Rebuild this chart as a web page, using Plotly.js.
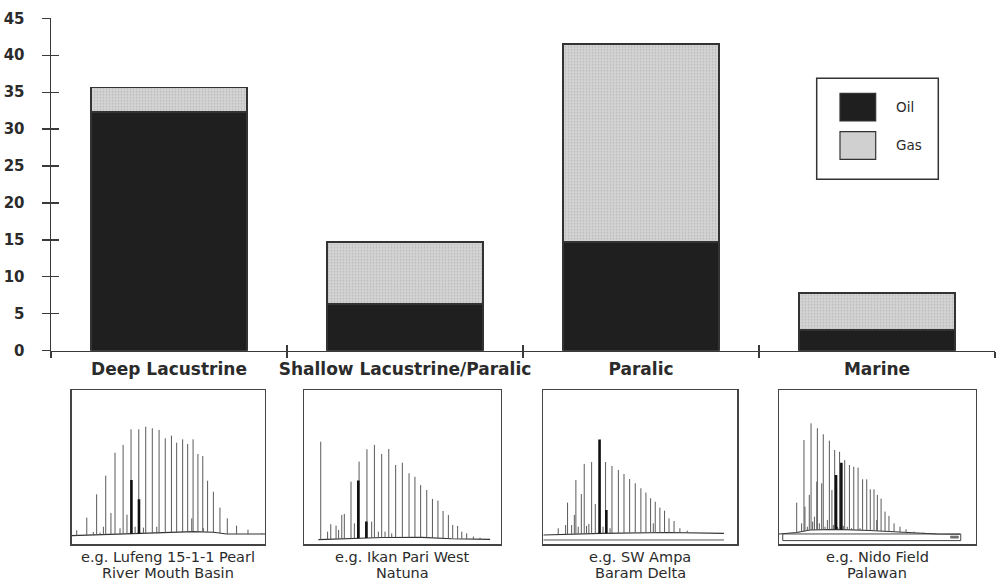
<!DOCTYPE html>
<html>
<head>
<meta charset="utf-8">
<script src="https://cdn.plot.ly/plotly-3.0.1.min.js"></script>
<style>
  html, body { margin: 0; padding: 0; background: #fff; }
  #chart { width: 998px; height: 582px; }
</style>
</head>
<body>
<div id="chart"></div>
<script>
// ---- Reserves by source-rock setting (stacked oil / gas) ----
const categories = ['Deep Lacustrine', 'Shallow Lacustrine/Paralic', 'Paralic', 'Marine'];
const seriesNames = ['Oil', 'Gas'];
const oilValues = [32.3, 6.3, 14.75, 2.8];
const gasValues = [3.3, 8.45, 26.75, 5.0];
const yTickValues = [0, 5, 10, 15, 20, 25, 30, 35, 40, 45];

// ---- Example whole-oil gas chromatograms (retention %, response %) ----
const captions = [
  ['e.g. Lufeng 15-1-1 Pearl', 'River Mouth Basin'],
  ['e.g. Ikan Pari West', 'Natuna'],
  ['e.g. SW Ampa', 'Baram Delta'],
  ['e.g. Nido Field', 'Palawan']
];

// Lufeng 15-1-1
const c1PeakTime = [2.6, 7.8, 11.2, 12.9, 14.7, 16.4, 17.6, 20.3, 22.4, 25.0, 26.6, 28.6, 30.7, 32.8, 34.7, 37.1, 38.3, 41.7, 44.0, 45.2, 48.4, 51.6, 54.3, 57.4, 60.0, 62.1, 62.8, 65.3, 67.8, 68.1, 70.3, 73.3, 76.7, 80.5, 85.3, 91.2, 98.3];
const c1PeakHeight = [9.1, 17.3, 8.0, 32.4, 7.6, 11.4, 44.5, 20.3, 59.4, 10.4, 64.4, 19.2, 74.5, 11.4, 74.5, 10.8, 76.2, 75.2, 11.4, 74.1, 68.7, 70.4, 65.9, 68.0, 65.0, 16.8, 68.0, 58.5, 57.2, 10.4, 41.2, 34.1, 23.8, 16.8, 12.1, 9.5, 7.3];
const c1MarkTime = [30.9, 34.8];
const c1MarkHeight = [41.7, 29.2];
const c1BaseTime = [0, 11.2, 28.4, 45.7, 62.9, 73.3, 80.2, 100];
const c1BaseLevel = [5.6, 6.0, 6.7, 7.1, 8.2, 7.8, 6.7, 6.7];

// Ikan Pari West
const c2PeakTime = [8.5, 12.0, 13.6, 16.3, 17.6, 19.2, 20.5, 23.9, 25.6, 28.0, 32.0, 34.4, 35.8, 37.8, 39.5, 41.2, 43.1, 44.6, 46.6, 50.0, 53.4, 56.4, 59.3, 62.4, 65.3, 68.1, 70.7, 73.4, 75.6, 78.1, 80.2, 82.7, 86.1, 89.5];
const c2PeakHeight = [66.5, 8.2, 13.0, 12.1, 9.3, 19.0, 19.7, 40.6, 13.6, 53.6, 61.6, 14.7, 64.4, 8.2, 58.5, 8.2, 61.8, 7.1, 51.4, 52.9, 46.0, 43.8, 38.4, 35.2, 29.4, 28.3, 21.6, 19.0, 12.5, 11.9, 8.2, 7.1, 5.0, 4.3];
const c2MarkTime = [27.6, 31.7];
const c2MarkHeight = [41.3, 14.7];
const c2BaseTime = [7.3, 20, 40, 60, 75, 94.6];
const c2BaseLevel = [3.0, 3.6, 4.4, 4.5, 3.6, 3.2];

// SW Ampa
const c3PeakTime = [7.7, 11.5, 12.5, 14.6, 16.0, 16.8, 18.0, 19.6, 21.1, 22.3, 23.5, 24.9, 26.8, 30.8, 32.1, 34.4, 35.4, 38.7, 41.6, 44.5, 47.4, 50.3, 52.9, 55.3, 56.7, 57.7, 60.1, 62.5, 64.8, 67.4, 70.4, 74.2];
const c3PeakHeight = [10.4, 12.5, 27.0, 12.5, 19.0, 41.7, 11.4, 32.6, 52.1, 11.9, 13.2, 53.3, 26.1, 11.4, 53.3, 10.4, 50.8, 48.2, 45.6, 42.3, 39.5, 36.3, 33.5, 29.8, 13.6, 27.6, 23.8, 21.8, 16.8, 15.1, 10.4, 8.9];
const c3MarkTime = [29.0, 32.5];
const c3MarkHeight = [68.0, 22.2];
const c3BaseTime = [0, 12.9, 30, 64.4, 93.1];
const c3BaseLevel = [6.0, 6.5, 7.1, 7.6, 7.1];
const c3LowerTime = [0, 93.1];
const c3LowerLevel = [2.8, 2.8];

// Nido Field
const c4PeakTime = [9.0, 10.3, 11.5, 12.7, 13.2, 14.4, 15.4, 16.3, 17.1, 18.0, 19.2, 19.5, 20.5, 21.7, 22.5, 23.4, 24.6, 25.6, 26.9, 27.6, 28.3, 29.8, 30.8, 32.7, 33.4, 34.7, 35.8, 36.9, 38.0, 40.2, 41.2, 42.5, 44.6, 46.4, 48.3, 49.7, 50.0, 51.9, 53.9, 55.9, 58.5, 61.5, 64.6, 68.6, 73.4, 79.2];
const c4PeakHeight = [27.0, 8.2, 13.6, 67.6, 24.4, 11.4, 32.0, 78.4, 14.7, 17.9, 40.6, 75.2, 13.6, 39.5, 71.3, 11.4, 15.8, 67.2, 35.2, 12.5, 61.1, 11.4, 60.0, 11.9, 54.6, 11.4, 51.4, 10.4, 50.3, 49.7, 10.4, 42.1, 42.1, 35.6, 35.6, 15.8, 32.0, 29.6, 21.2, 18.4, 13.6, 11.4, 9.7, 8.2, 7.6, 7.1];
const c4MarkTime = [29.0, 31.7];
const c4MarkHeight = [44.9, 52.9];
const c4BaseTime = [0, 9, 15.8, 29.3, 46.3, 63.2, 80.2, 92.0];
const c4BaseLevel = [6.7, 7.6, 9.3, 9.7, 8.9, 7.6, 6.7, 6.5];

const chromatograms = [
  { peakT: c1PeakTime, peakH: c1PeakHeight, markT: c1MarkTime, markH: c1MarkHeight, baseT: c1BaseTime, baseY: c1BaseLevel },
  { peakT: c2PeakTime, peakH: c2PeakHeight, markT: c2MarkTime, markH: c2MarkHeight, baseT: c2BaseTime, baseY: c2BaseLevel },
  { peakT: c3PeakTime, peakH: c3PeakHeight, markT: c3MarkTime, markH: c3MarkHeight, baseT: c3BaseTime, baseY: c3BaseLevel, lowerT: c3LowerTime, lowerY: c3LowerLevel },
  { peakT: c4PeakTime, peakH: c4PeakHeight, markT: c4MarkTime, markH: c4MarkHeight, baseT: c4BaseTime, baseY: c4BaseLevel }
];

// ---- page geometry helpers (pixel -> paper) ----
const W = 998, H = 582;
const px = x => x / W;
const py = y => 1 - y / H;

const INK = '#2b2b2b';
const AXIS = '#3a3a3a';
const OIL_COLOR = '#1f1f1f';
const GAS_COLOR = '#d0d0d0';

const mainXDomain = [px(51), px(995)];
const mainYDomain = [py(350.7), py(18.3)];

// baseline level under a given retention time
function footAt(t, bt, by) {
  if (t <= bt[0]) return by[0];
  for (let i = 1; i < bt.length; i++) {
    if (t <= bt[i]) {
      const f = (t - bt[i - 1]) / (bt[i] - bt[i - 1]);
      return by[i - 1] + f * (by[i] - by[i - 1]);
    }
  }
  return by[by.length - 1];
}

function stickTrace(times, heights, bt, by, xa, ya, color, width) {
  const xs = [], ys = [];
  times.forEach((t, i) => {
    xs.push(t, t, null);
    ys.push(footAt(t, bt, by), heights[i], null);
  });
  return { type: 'scatter', mode: 'lines', x: xs, y: ys, xaxis: xa, yaxis: ya,
           line: { color: color, width: width }, hoverinfo: 'skip', showlegend: false };
}

const traces = [
  {
    type: 'bar', name: seriesNames[0], x: categories, y: oilValues,
    marker: { color: OIL_COLOR, line: { color: '#333', width: 1.5 } },
    xaxis: 'x', yaxis: 'y'
  },
  {
    type: 'bar', name: seriesNames[1], x: categories, y: gasValues,
    marker: {
      color: GAS_COLOR,
      line: { color: '#333', width: 1.5 },
      pattern: { shape: '.', fgcolor: '#b4b4b4', bgcolor: '#d3d3d3', size: 3, solidity: 0.2 }
    },
    xaxis: 'x', yaxis: 'y'
  },
  // carrier for the twin axes that draw the inner half of each crossing tick
  {
    type: 'scatter', mode: 'markers', x: [0], y: [0], xaxis: 'x6', yaxis: 'y6',
    marker: { opacity: 0, size: 1 }, hoverinfo: 'skip', showlegend: false
  }
];

const insetLeft = [71.7, 304, 543.3, 779];
const insetRight = [265, 500.7, 737.3, 975.7];
const insetTop = 390, insetBottom = 544.3;

const layout = {
  width: W, height: H,
  margin: { l: 0, r: 0, t: 0, b: 0, pad: 0 },
  paper_bgcolor: '#fff', plot_bgcolor: 'rgba(0,0,0,0)',
  showlegend: false,
  barmode: 'stack',
  bargap: 0.34,
  font: { family: 'DejaVu Sans', color: INK },
  xaxis: {
    domain: mainXDomain, anchor: 'y',
    type: 'category', range: [-0.5, 3.5],
    tickson: 'boundaries', ticks: 'outside', ticklen: 6, tickwidth: 1.3, tickcolor: AXIS,
    showline: true, linecolor: AXIS, linewidth: 1.5,
    showgrid: false, zeroline: false, tickangle: 0,
    tickfont: { family: 'DejaVu Sans', size: 17, weight: 'bold', color: INK },
    ticklabelstandoff: 2,
    fixedrange: true
  },
  yaxis: {
    domain: mainYDomain, anchor: 'x',
    range: [0, 45], tickvals: yTickValues, ticktext: yTickValues.map(String),
    ticks: 'outside', ticklen: 8, tickwidth: 1.3, tickcolor: AXIS,
    showline: true, linecolor: AXIS, linewidth: 1.5,
    showgrid: false, zeroline: false,
    tickfont: { family: 'DejaVu Sans', size: 15, weight: 'bold', color: INK },
    ticklabelstandoff: 14,
    fixedrange: true
  },
  xaxis6: {
    domain: mainXDomain, anchor: 'y6',
    range: [-0.5, 3.5], tickvals: [0.5, 1.5, 2.5, 3.5], ticks: 'inside', ticklen: 6,
    tickwidth: 1.3, tickcolor: AXIS, showticklabels: false, showline: false,
    showgrid: false, zeroline: false, fixedrange: true
  },
  yaxis6: {
    domain: mainYDomain, anchor: 'x6',
    range: [0, 45], tickvals: yTickValues, ticks: 'inside', ticklen: 8,
    tickwidth: 1.3, tickcolor: AXIS, showticklabels: false, showline: false,
    showgrid: false, zeroline: false, fixedrange: true
  },
  shapes: [],
  annotations: []
};

// chromatogram panels
chromatograms.forEach((c, k) => {
  const n = k + 2;
  const xa = 'x' + n, ya = 'y' + n;
  layout['xaxis' + n] = {
    domain: [px(insetLeft[k]), px(insetRight[k])], anchor: ya, range: [0, 100],
    showline: true, mirror: true, linecolor: '#444', linewidth: 1.3,
    showgrid: false, zeroline: false, showticklabels: false, ticks: '', fixedrange: true
  };
  layout['yaxis' + n] = {
    domain: [py(insetBottom), py(insetTop)], anchor: xa, range: [0, 100],
    showline: true, mirror: true, linecolor: '#444', linewidth: 1.3,
    showgrid: false, zeroline: false, showticklabels: false, ticks: '', fixedrange: true
  };
  traces.push({ type: 'scatter', mode: 'lines', x: c.baseT, y: c.baseY, xaxis: xa, yaxis: ya,
                line: { color: '#333', width: 1.1 }, hoverinfo: 'skip', showlegend: false });
  if (c.lowerT) {
    traces.push({ type: 'scatter', mode: 'lines', x: c.lowerT, y: c.lowerY, xaxis: xa, yaxis: ya,
                  line: { color: '#555', width: 1 }, hoverinfo: 'skip', showlegend: false });
  }
  traces.push(stickTrace(c.peakT, c.peakH, c.baseT, c.baseY, xa, ya, '#5a5a5a', 1));
  traces.push(stickTrace(c.markT, c.markH, c.baseT, c.baseY, xa, ya, '#111', 2.6));

  const cx = (insetLeft[k] + insetRight[k]) / 2;
  layout.annotations.push(
    { xref: 'paper', yref: 'paper', x: px(cx), y: py(556.5), xanchor: 'center', yanchor: 'middle',
      text: captions[k][0], showarrow: false, font: { family: 'DejaVu Sans', size: 14.5, color: INK } },
    { xref: 'paper', yref: 'paper', x: px(cx), y: py(573.3), xanchor: 'center', yanchor: 'middle',
      text: captions[k][1], showarrow: false, font: { family: 'DejaVu Sans', size: 14.5, color: INK } }
  );
});

// Nido Field: integration strip under the trace
layout.shapes.push(
  { type: 'rect', xref: 'x5', yref: 'y5', x0: 1.9, x1: 92.4, y0: 2.4, y1: 6.7,
    line: { color: '#444', width: 1 }, fillcolor: 'rgba(0,0,0,0)' },
  { type: 'rect', xref: 'x5', yref: 'y5', x0: 87.2, x1: 91.2, y0: 4.0, y1: 5.4,
    line: { color: '#555', width: 0.5 }, fillcolor: '#777' }
);

// key box
layout.shapes.push(
  { type: 'rect', xref: 'paper', yref: 'paper', x0: px(816.7), x1: px(938.3), y0: py(179.3), y1: py(78.3),
    line: { color: '#333', width: 1.5 }, fillcolor: '#fff' },
  { type: 'rect', xref: 'paper', yref: 'paper', x0: px(840), x1: px(875.7), y0: py(121), y1: py(93.3),
    line: { color: '#333', width: 1.2 }, fillcolor: OIL_COLOR },
  { type: 'rect', xref: 'paper', yref: 'paper', x0: px(840), x1: px(875.7), y0: py(159.3), y1: py(131.7),
    line: { color: '#333', width: 1.2 }, fillcolor: GAS_COLOR }
);
layout.annotations.push(
  { xref: 'paper', yref: 'paper', x: px(894), y: py(107), xanchor: 'left', yanchor: 'middle',
    text: seriesNames[0], showarrow: false, font: { family: 'DejaVu Sans', size: 13.5, color: INK } },
  { xref: 'paper', yref: 'paper', x: px(894), y: py(145), xanchor: 'left', yanchor: 'middle',
    text: seriesNames[1], showarrow: false, font: { family: 'DejaVu Sans', size: 13.5, color: INK } }
);

Plotly.newPlot('chart', traces, layout, { displayModeBar: false, staticPlot: true });
</script>
</body>
</html>
